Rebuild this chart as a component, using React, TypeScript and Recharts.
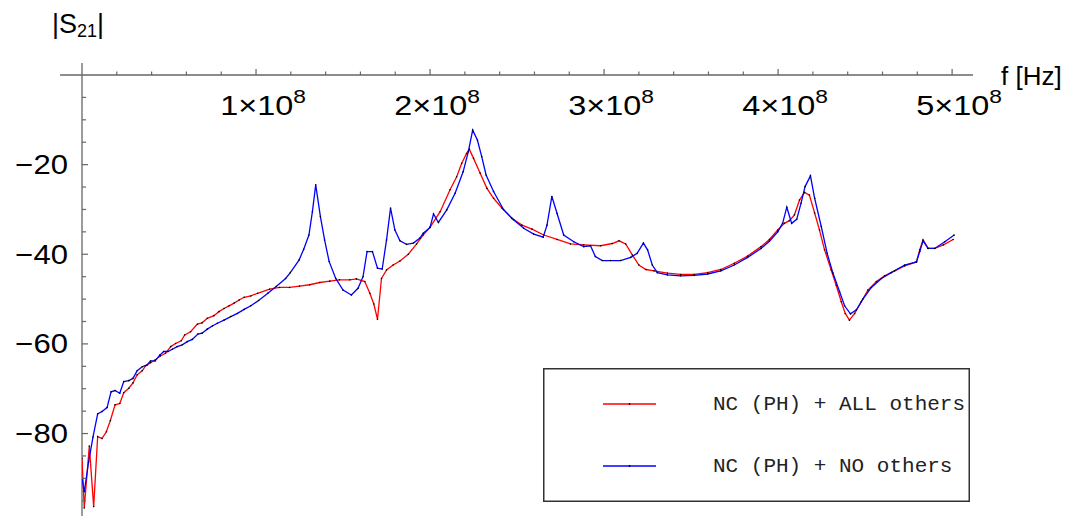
import { LineChart, Line, XAxis, YAxis, ReferenceLine, Legend } from "recharts";

// frequency in MHz, |S21| in dB
const allOthersFreq = [
  0, 1.3, 4.2, 6.7, 9, 11.5, 14, 16.3, 19, 21.7, 24, 26.9, 29.3, 31.7, 34.6, 36.5, 39.4, 42, 45, 48,
  51, 53.8, 57, 59, 62.4, 66.3, 69, 72, 75.8, 78.7, 81.6, 84.5, 87.4, 90.3, 93.2, 97, 100.9, 107.8,
  113.5, 119.3, 125, 130.8, 136.6, 142.4, 148, 153.9, 157.7, 162.5, 165.4, 167.7, 169.8, 172.1, 175,
  178.8, 182.7, 187.5, 192.3, 196, 200, 205.8, 211.5, 215.3, 218.2, 221, 222.6, 225, 228.8, 232.7,
  236.5, 241.3, 247, 252.8, 258.6, 265.3, 273, 280.7, 288.3, 298, 304.7, 308.6, 312.4, 316.3, 320,
  324, 328.7, 336.4, 344, 351.8, 359.5, 367.1, 374.8, 382.5, 390.2, 395, 399.8, 403.6, 406.5, 409.4,
  412.3, 415.2, 418, 421, 423.8, 426.7, 430.5, 433.4, 436.3, 438.6, 441, 444, 447.8, 451.6, 456.5,
  461.2, 467, 472.7, 479.5, 481.4, 483.3, 486.2, 490, 495, 500.6,
];
const allOthersMag = [
  -85.5, -96.6, -82.8, -96.3, -80.7, -81.1, -79.6, -77.1, -73.6, -73.3, -70.9, -69.9, -68.7, -66.9,
  -66.0, -64.9, -64.2, -63.6, -62.7, -62.1, -60.6, -59.9, -59.3, -58.0, -57.3, -55.6, -55.3, -54.3,
  -53.7, -52.8, -52.1, -51.5, -50.9, -50.2, -49.6, -49.3, -48.7, -47.8, -47.4, -47.4, -47.1, -46.8,
  -46.3, -46.0, -45.7, -45.7, -45.5, -46.1, -48.7, -51.1, -54.5, -45.4, -43.5, -42.4, -41.5, -40.0,
  -37.7, -35.7, -34.0, -30.5, -25.6, -22.7, -19.7, -17.5, -16.6, -18.6, -21.9, -25.3, -27.5, -29.7,
  -32.0, -33.5, -34.4, -35.7, -36.7, -37.7, -37.9, -38.1, -37.6, -37.0, -37.7, -40.2, -42.4, -43.4,
  -43.7, -44.2, -44.5, -44.5, -44.1, -43.4, -42.0, -40.4, -38.3, -36.7, -34.6, -33.1, -32.5, -31.2,
  -27.9, -26.2, -26.8, -30.8, -34.6, -39.0, -43.5, -46.9, -50.6, -53.2, -54.7, -53.2, -50.6, -48.0,
  -46.1, -44.8, -43.7, -42.6, -41.7, -39.0, -36.8, -38.7, -38.7, -37.9, -36.7,
];

const noOthersFreq = [
  0, 1.3, 3.8, 6.3, 9, 11.5, 14.4, 16.7, 19, 21.7, 24, 26.9, 29.3, 31.7, 34.6, 37.4, 39.4, 42, 44.7,
  47, 49.4, 51.9, 54.7, 57.6, 60.5, 63.4, 66.6, 69, 72, 74.9, 77.8, 81.6, 85.5, 89.3, 93.2, 97, 101.5,
  106.8, 111.6, 117, 119.7, 124.7, 127.4, 130.4, 132.4, 134.3, 137, 139.4, 142, 145.8, 150, 154.8,
  158.6, 161.5, 163.8, 166.9, 169.8, 172.5, 175, 177.3, 179.8, 182.7, 186.5, 190.4, 194.2, 196.1, 200,
  202, 204.8, 209.6, 214.4, 219, 222, 224.5, 227.2, 229.7, 232.2, 236.5, 242.2, 248, 253.8, 259.6,
  265, 267.2, 270, 273, 276.8, 282.6, 288.3, 292.2, 295, 299, 303.7, 309.5, 315.3, 319, 322.6, 325,
  327.7, 330.6, 336.4, 344, 351.8, 359.5, 367.1, 374.8, 382.5, 390.2, 395, 399.8, 402.6, 405, 407.8,
  410.7, 413.2, 415.5, 418.6, 421, 424.8, 428.2, 431.5, 435.3, 438.2, 441.6, 445, 448.7, 453.6, 459.4,
  465, 472.7, 479.5, 481.4, 483.3, 486.2, 490, 495.8, 501.2,
];
const noOthersMag = [
  -90.0, -93.0, -86.3, -80.8, -75.6, -75.1, -74.2, -70.7, -70.4, -71.0, -68.4, -68.2, -67.7, -66.0,
  -65.1, -64.7, -63.8, -63.8, -62.5, -61.7, -61.7, -61.2, -60.6, -60.2, -59.5, -59.0, -57.8, -57.6,
  -56.7, -56.0, -55.4, -54.7, -53.9, -53.2, -52.3, -51.5, -50.3, -48.7, -47.2, -45.4, -44.1, -41.3,
  -38.9, -35.7, -30.5, -24.5, -31.6, -36.8, -41.6, -45.4, -48.0, -49.1, -47.6, -45.0, -39.4, -39.4,
  -43.1, -43.3, -36.8, -29.7, -34.6, -37.0, -37.8, -37.5, -36.4, -35.3, -34.0, -31.0, -32.9, -30.1,
  -26.4, -21.6, -17.1, -12.3, -14.5, -18.2, -22.3, -26.0, -30.0, -32.3, -34.2, -35.5, -36.2, -33.5,
  -27.1, -30.9, -35.7, -37.2, -38.3, -38.1, -40.5, -41.4, -41.4, -41.4, -40.7, -39.8, -37.5, -39.0,
  -42.4, -44.1, -44.6, -44.8, -44.7, -44.4, -43.7, -42.4, -40.7, -38.7, -37.1, -35.0, -33.1, -29.5,
  -33.1, -32.2, -28.6, -24.9, -22.5, -27.5, -33.8, -39.8, -44.2, -48.3, -51.5, -53.3, -52.4, -50.0,
  -47.4, -45.4, -44.1, -42.4, -41.7, -39.4, -37.0, -38.7, -38.7, -37.2, -35.7,
];

const xTicks = [20, 40, 60, 80, 100, 120, 140, 160, 180, 200, 220, 240, 260, 280, 300, 320, 340, 360, 380, 400, 420, 440, 460, 480, 500];
const yTicks = [-5, -10, -15, -20, -25, -30, -35, -40, -45, -50, -55, -60, -65, -70, -75, -80, -85, -90, -95];

const seriesNames = ["NC (PH) + ALL others", "NC (PH) + NO others"];

const allOthersData = allOthersFreq.map((f, i) => ({ f, v: allOthersMag[i] }));
const noOthersData = noOthersFreq.map((f, i) => ({ f, v: noOthersMag[i] }));

const axisColor = "#666";

function XTick({ x, y, payload }: any) {
  const v = payload.value;
  const major = v % 100 === 0;
  return (
    <g>
      <line x1={x} y1={y} x2={x} y2={y - (major ? 6 : 3.5)} stroke={axisColor} strokeWidth={1.2} />
      {major && (
        <g transform={`translate(${x + 7},${y + 40}) scale(1.2,1)`}>
          <text x={0} y={0} textAnchor="middle" fontSize={27} fill="#000" fontFamily="Liberation Sans, Arial, sans-serif">
            <tspan>{v / 100}×10</tspan>
            <tspan dy={-12} fontSize={19}>8</tspan>
          </text>
        </g>
      )}
    </g>
  );
}

function YTick({ x, y, payload }: any) {
  const v = payload.value;
  const major = v % 20 === 0;
  return (
    <g>
      <line x1={x} y1={y} x2={x + (major ? 6 : 4)} y2={y} stroke={axisColor} strokeWidth={1.2} />
      {major && (
        <g transform={`translate(${x - 14},${y + 9.5}) scale(1.15,1)`}>
          <text x={0} y={0} textAnchor="end" fontSize={27} fill="#000" fontFamily="Liberation Sans, Arial, sans-serif">
            {"\u2212" + Math.abs(v)}
          </text>
        </g>
      )}
    </g>
  );
}

function LegendBox({ payload }: any) {
  const rows = payload || [];
  return (
    <svg width={427} height={134} style={{ display: "block" }}>
      <rect x={0.75} y={0.75} width={425.5} height={132.5} fill="#fff" stroke="#333" strokeWidth={1.5} />
      {rows.map((p: any, i: number) => {
        const cy = i === 0 ? 36 : 98;
        return (
          <g key={i}>
            <line x1={60} y1={cy} x2={113} y2={cy} stroke={p.color} strokeWidth={1.3} />
            <circle cx={86.5} cy={cy} r={0.9} fill="#000" />
            <text x={170} y={cy + 6} fontSize={21} fill="#222" fontFamily="Liberation Mono, Courier New, monospace">
              {p.value}
            </text>
          </g>
        );
      })}
    </svg>
  );
}

export default function App() {
  return (
    <div
      style={{
        position: "fixed",
        left: 0,
        top: 0,
        width: 1090,
        height: 516,
        overflow: "hidden",
        background: "#fff",
        fontFamily: "Liberation Sans, Arial, sans-serif",
      }}
    >
      <div style={{ position: "absolute", left: 52, top: 11, fontSize: 27, lineHeight: "27px", color: "#000" }}>
        |S<span style={{ fontSize: 18, position: "relative", top: 4 }}>21</span>|
      </div>
      <div style={{ position: "absolute", left: 1001, top: 63, fontSize: 26, lineHeight: "26px", color: "#000" }}>
        f [Hz]
      </div>
      <LineChart width={1090} height={516} margin={{ top: 0, right: 117, bottom: 0, left: 0 }}>
        <XAxis
          type="number"
          dataKey="f"
          orientation="top"
          height={75}
          domain={[0, 512]}
          ticks={xTicks}
          allowDataOverflow
          axisLine={false}
          tickLine={false}
          tickSize={0}
          tickMargin={0}
          tick={<XTick />}
          interval={0}
        />
        <YAxis
          type="number"
          dataKey="v"
          width={82}
          domain={[-98.4, 0]}
          ticks={yTicks}
          allowDataOverflow
          axisLine={false}
          tickLine={false}
          tickSize={0}
          tickMargin={0}
          tick={<YTick />}
          interval={0}
        />
        <ReferenceLine
          segment={[{ x: -12.6, y: 0 }, { x: 512, y: 0 }]}
          stroke={axisColor}
          strokeWidth={1.3}
          ifOverflow="visible"
        />
        <ReferenceLine
          segment={[{ x: 0, y: 2.7 }, { x: 0, y: -99 }]}
          stroke={axisColor}
          strokeWidth={1.3}
          ifOverflow="visible"
        />
        <Line
          data={allOthersData}
          dataKey="v"
          name={seriesNames[0]}
          stroke="#ff0000"
          strokeWidth={1.3}
          dot={{ r: 0.8, fill: "#000", stroke: "none" }}
          isAnimationActive={false}
          type="linear"
        />
        <Line
          data={noOthersData}
          dataKey="v"
          name={seriesNames[1]}
          stroke="#0000ff"
          strokeWidth={1.3}
          dot={{ r: 0.8, fill: "#000", stroke: "none" }}
          isAnimationActive={false}
          type="linear"
        />
        <Legend
          layout="horizontal"
          verticalAlign="middle"
          align="center"
          content={<LegendBox />}
          wrapperStyle={{ left: 543, top: 368, width: 427, height: 134 }}
        />
      </LineChart>
    </div>
  );
}
